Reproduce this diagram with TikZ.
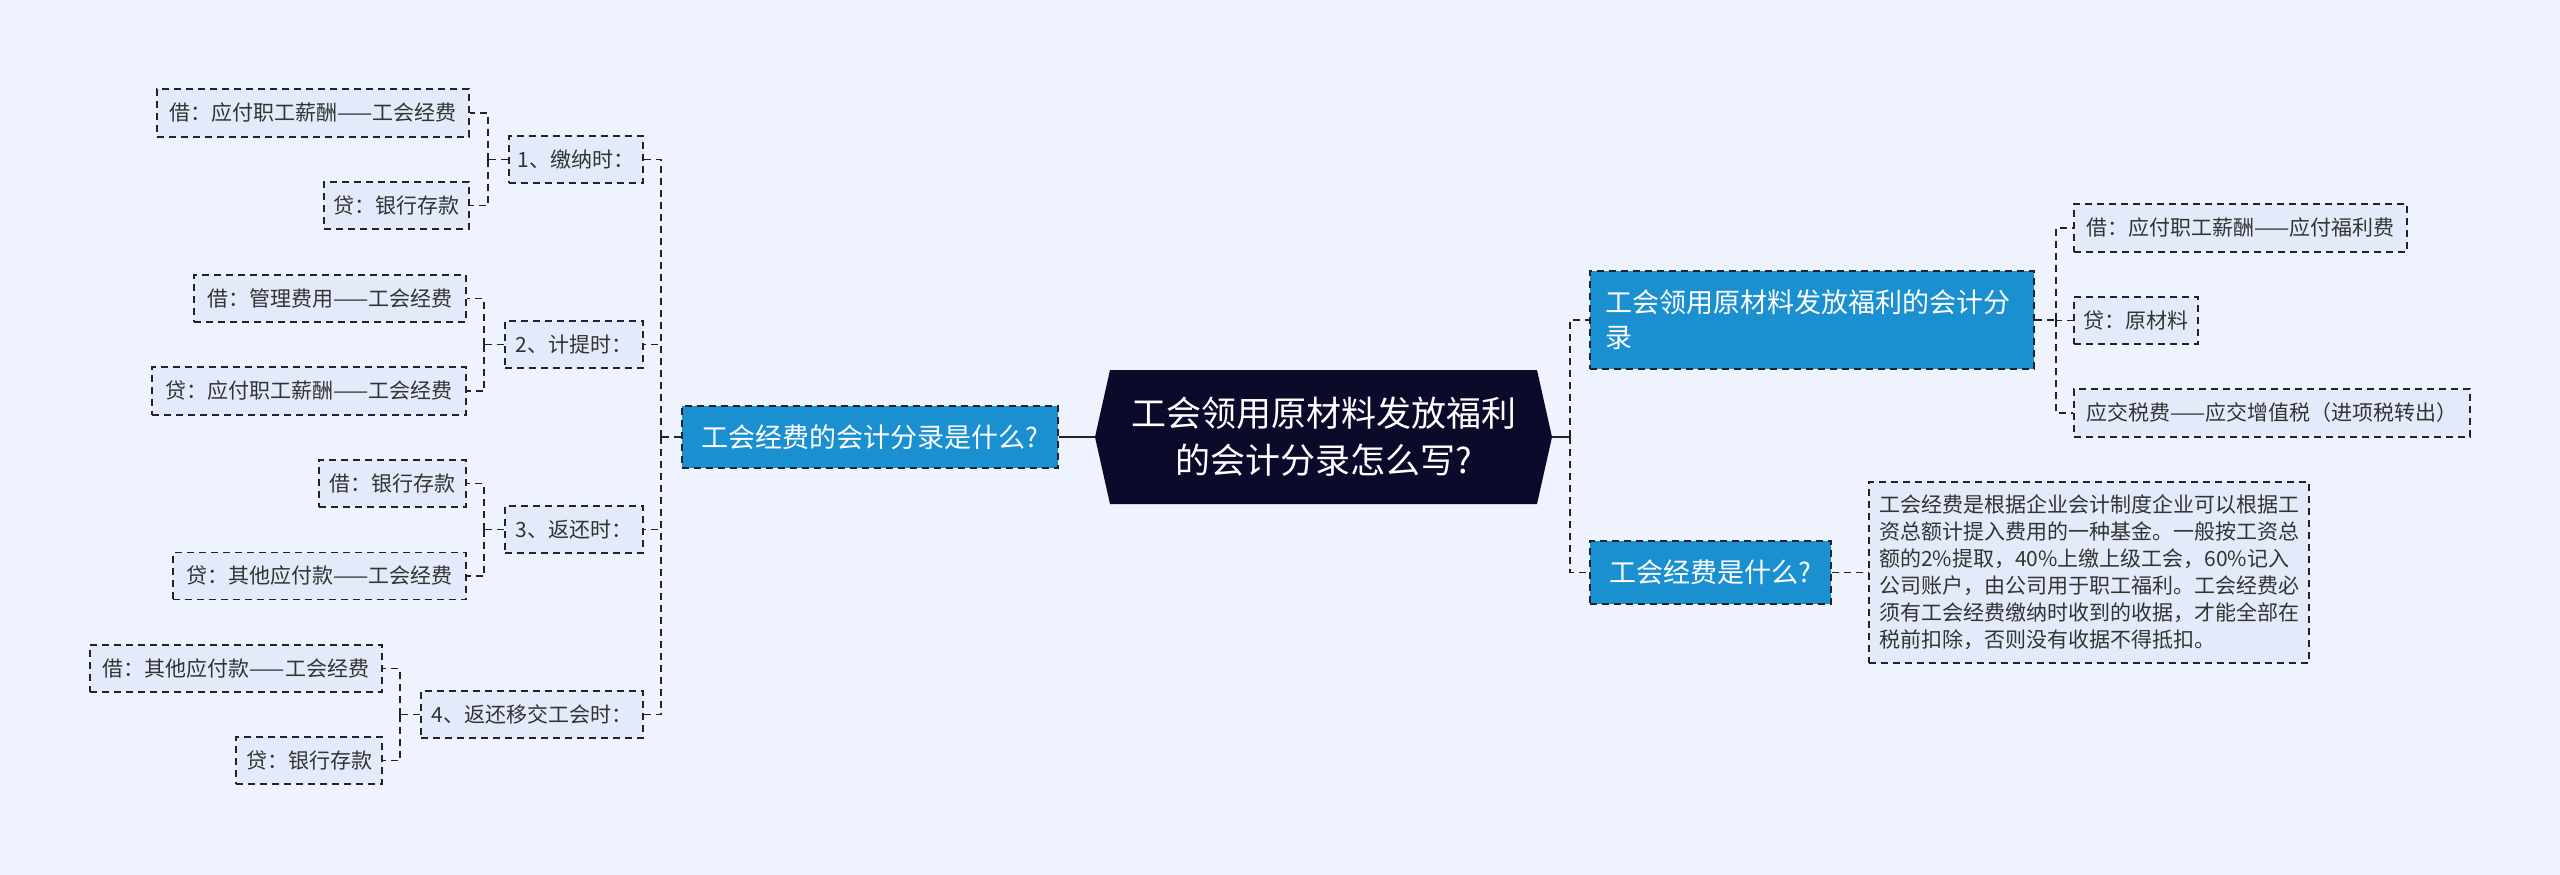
\documentclass[tikz,border=0pt]{standalone}
\usepackage{fontspec}
\newfontfamily\cjk{Noto Sans CJK SC}
\definecolor{bg}{HTML}{EEF3FE}
\definecolor{leaffill}{HTML}{E3EBFA}
\definecolor{bluefill}{HTML}{1A90D0}
\definecolor{darkfill}{HTML}{0C0A2B}
\definecolor{edge}{HTML}{22222C}
\definecolor{txt}{HTML}{333333}
\begin{document}
\begin{tikzpicture}[x=1pt,y=-1pt,
  box/.style={draw=edge, line width=1.8pt, dash pattern=on 7pt off 5pt, inner sep=0pt},
  leaf/.style={box, fill=leaffill, text=txt, font=\cjk\fontsize{21}{27}\selectfont, minimum height=47pt},
  branch/.style={box, fill=bluefill, text=white, font=\cjk\fontsize{27}{35}\selectfont},
  conn/.style={draw=edge, line width=1.8pt, dash pattern=on 7pt off 5pt},
  solidconn/.style={draw=edge, line width=2.4pt}
]
\useasboundingbox (0,0) rectangle (2560,875);
\fill[bg] (0,0) rectangle (2560,875);

% central node
\fill[darkfill] (1095,437) -- (1110,370) -- (1537,370) -- (1552,437) -- (1537,504) -- (1110,504) -- cycle;
\node[text=white, font=\cjk\fontsize{35}{47}\selectfont, align=center, minimum width=427pt, minimum height=134pt, inner sep=0pt] (c) at (1323.5,437) {工会领用原材料发放福利\\的会计分录怎么写?};
\coordinate (cL) at (1095,437);
\coordinate (cR) at (1552,437);

% left main branch
\node[branch, minimum width=376pt, minimum height=62pt] (lb) at (870,437) {工会经费的会计分录是什么?};

% sub nodes
\node[leaf, minimum width=134pt] (s1) at (576,159.5) {1、缴纳时：};
\node[leaf, minimum width=138pt] (s2) at (574,344.5) {2、计提时：};
\node[leaf, minimum width=138pt] (s3) at (574,529.5) {3、返还时：};
\node[leaf, minimum width=222pt] (s4) at (532,714.5) {4、返还移交工会时：};

% leaves left
\node[leaf, minimum width=312pt, minimum height=48pt] (a1) at (313,113) {借：应付职工薪酬——工会经费};
\node[leaf, minimum width=145pt] (a2) at (396.5,205.5) {贷：银行存款};
\node[leaf, minimum width=272pt] (b1) at (330,298.5) {借：管理费用——工会经费};
\node[leaf, minimum width=314pt, minimum height=48pt] (b2) at (309,391) {贷：应付职工薪酬——工会经费};
\node[leaf, minimum width=147pt] (c1) at (392.5,483.5) {借：银行存款};
\node[leaf, minimum width=293pt] (c2) at (319.5,576) {贷：其他应付款——工会经费};
\node[leaf, minimum width=292pt] (d1) at (236,668.5) {借：其他应付款——工会经费};
\node[leaf, minimum width=146pt] (d2) at (309,760.5) {贷：银行存款};

% right branches
\node[branch, text width=414pt, inner xsep=15pt, align=left, minimum height=98pt] (tr) at (1812,320) {工会领用原材料发放福利的会计分\\录};
\node[branch, minimum width=241pt, minimum height=63pt] (tw) at (1710.5,572.5) {工会经费是什么?};

\node[leaf, minimum width=333pt, minimum height=48pt] (r1) at (2240.5,228) {借：应付职工薪酬——应付福利费};
\node[leaf, minimum width=124pt] (r2) at (2136,320.5) {贷：原材料};
\node[leaf, minimum width=396pt, minimum height=48pt] (r3) at (2272,413) {应交税费——应交增值税（进项税转出）};

\node[leaf, align=left, minimum width=440pt, minimum height=181pt] (det) at (2089,572.5) {工会经费是根据企业会计制度企业可以根据工\\资总额计提入费用的一种基金。一般按工资总\\额的2\%提取，40\%上缴上级工会，60\%记入\\公司账户，由公司用于职工福利。工会经费必\\须有工会经费缴纳时收到的收据，才能全部在\\税前扣除，否则没有收据不得抵扣。};

% connectors: center
\draw[solidconn] (cL) -- (lb.east);
\draw[solidconn] (cR) -- ++(18,0) coordinate (rt);
\draw[conn] (rt) |- (tr.west);
\draw[conn] (rt) |- (tw.west);

% left trunk
\draw[conn] (lb.west) -- ++(-20,0) coordinate (lt);
\draw[conn] (lt) |- (s1.east);
\draw[conn] (lt) |- (s2.east);
\draw[conn] (lt) |- (s3.east);
\draw[conn] (lt) |- (s4.east);

% sub trunks
\draw[conn] (s1.west) -- ++(-20,0) coordinate (t1);
\draw[conn] (t1) |- (a1.east);
\draw[conn] (t1) |- (a2.east);
\draw[conn] (s2.west) -- ++(-20,0) coordinate (t2);
\draw[conn] (t2) |- (b1.east);
\draw[conn] (t2) |- (b2.east);
\draw[conn] (s3.west) -- ++(-20,0) coordinate (t3);
\draw[conn] (t3) |- (c1.east);
\draw[conn] (t3) |- (c2.east);
\draw[conn] (s4.west) -- ++(-20,0) coordinate (t4);
\draw[conn] (t4) |- (d1.east);
\draw[conn] (t4) |- (d2.east);

% right sub trunk
\draw[conn] (tr.east) -- ++(21,0) coordinate (rt2);
\draw[conn] (rt2) |- (r1.west);
\draw[conn] (rt2) |- (r2.west);
\draw[conn] (rt2) |- (r3.west);
\draw[conn] (tw.east) -- (det.west);
\end{tikzpicture}
\end{document}
